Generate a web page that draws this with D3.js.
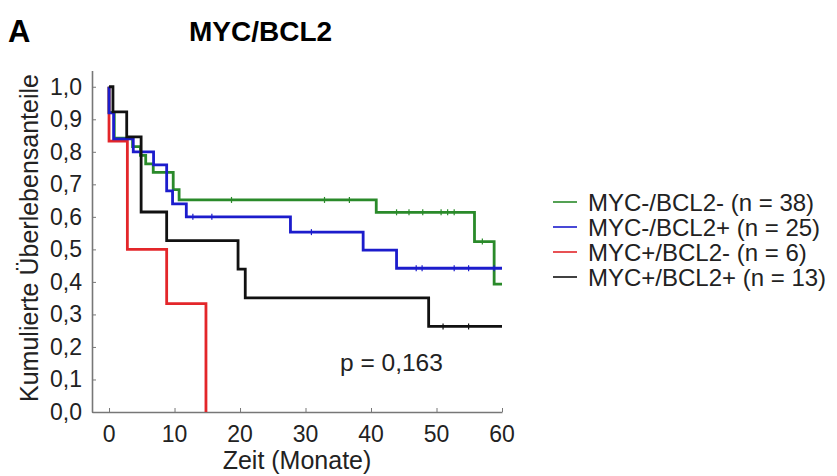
<!DOCTYPE html>
<html>
<head>
<meta charset="utf-8">
<script src="https://cdn.jsdelivr.net/npm/d3@7"></script>
<style>
  body { margin: 0; background: #fff; }
  text { font-family: "Liberation Sans", Arial, sans-serif; }
</style>
</head>
<body>
<svg id="km" width="837" height="476"></svg>
<script>
const groups = ['MYC-/BCL2- (n = 38)', 'MYC-/BCL2+ (n = 25)', 'MYC+/BCL2- (n = 6)', 'MYC+/BCL2+ (n = 13)']
const xTicks = [0, 10, 20, 30, 40, 50, 60]
const yTicks = [0, 0.1, 0.2, 0.3, 0.4, 0.5, 0.6, 0.7, 0.8, 0.9, 1.0]

// [time in months, survival after event]
const stepsMinusMinus = [[0, 1], [0, 0.921], [0.8, 0.842], [3.6, 0.816], [4.8, 0.789],
  [5.6, 0.763], [6.75, 0.737], [9.8, 0.684], [10.7, 0.652], [40.8, 0.614], [55.8, 0.524], [58.8, 0.393], [60, 0.393]]
const stepsMinusPlus = [[0, 1], [0, 0.92], [0.7, 0.84], [3.7, 0.80], [6.8, 0.76], [8.8, 0.68], [9.7, 0.64],
  [11.8, 0.60], [27.7, 0.553], [38.8, 0.498], [43.9, 0.442], [60, 0.442]]
const stepsPlusMinus = [[0, 1], [0, 0.833], [2.8, 0.5], [8.8, 0.333], [14.8, 0]]
const stepsPlusPlus = [[0, 1], [0.6, 0.923], [2.7, 0.846], [4.9, 0.615], [8.8, 0.527], [19.7, 0.439],
  [20.8, 0.351], [48.8, 0.263], [60, 0.263]]

// censored times
const censMinusMinus = [18.7, 32.9, 36.7, 43.9, 45.8, 47.9, 50.7, 51.7, 52.7, 57]
const censMinusPlus = [12.8, 15.7, 30.9, 46.9, 47.8, 52.7, 54.9, 58.8]
const censPlusMinus = []
const censPlusPlus = [51, 54.9]

const pText = 'p = 0,163'

const colors = ['#2a8a2a', '#1c1ccc', '#e3262a', '#111111']
const allSteps = [stepsMinusMinus, stepsMinusPlus, stepsPlusMinus, stepsPlusPlus]
const allCens = [censMinusMinus, censMinusPlus, censPlusMinus, censPlusPlus]
const drawOrder = [0, 2, 1, 3]

const svg = d3.select('svg#km')

const x = d3.scaleLinear().domain([-2.6, 60]).range([92, 502])
const y = d3.scaleLinear().domain([0, 1.05]).range([412, 70.5])

// survival at time t for a step list
const survAt = (steps, t) => {
  let s = steps[0][1]
  steps.forEach(p => { if (p[0] <= t) s = p[1] })
  return s
}

// axes
const axisColor = '#777'
const xAxis = svg.append('g').attr('transform', 'translate(0,412)')
  .call(d3.axisBottom(x).tickValues(xTicks).tickSizeInner(-4).tickSizeOuter(0).tickFormat(''))
const yAxis = svg.append('g').attr('transform', 'translate(92,0)')
  .call(d3.axisLeft(y).tickValues(yTicks).tickSizeInner(-4).tickSizeOuter(0).tickFormat(''))
;[xAxis, yAxis].forEach(a => {
  a.select('.domain').attr('stroke', axisColor).attr('stroke-width', 1.6)
  a.selectAll('.tick line').attr('stroke', axisColor).attr('stroke-width', 1)
})

svg.append('g').selectAll('text')
  .data(xTicks)
  .enter()
  .append('text')
  .attr('x', d => x(d))
  .attr('y', 442)
  .attr('text-anchor', 'middle')
  .attr('font-size', '23px')
  .attr('fill', '#222')
  .text(d => d)

svg.append('g').selectAll('text')
  .data(yTicks)
  .enter()
  .append('text')
  .attr('x', 82)
  .attr('y', d => y(d) + 8)
  .attr('text-anchor', 'end')
  .attr('font-size', '23px')
  .attr('fill', '#222')
  .text(d => d3.format('.1f')(d).replace('.', ','))

svg.append('text')
  .attr('x', 297)
  .attr('y', 469)
  .attr('text-anchor', 'middle')
  .attr('font-size', '25px')
  .attr('fill', '#222')
  .text('Zeit (Monate)')

svg.append('text')
  .attr('transform', 'translate(38,238) rotate(-90)')
  .attr('text-anchor', 'middle')
  .attr('font-size', '25px')
  .attr('fill', '#222')
  .text('Kumulierte Überlebensanteile')

// curves
const line = d3.line()
  .x(p => x(p[0]))
  .y(p => y(p[1]))
  .curve(d3.curveStepAfter)

svg.append('g').selectAll('path')
  .data(drawOrder)
  .enter()
  .append('path')
  .attr('d', i => line(allSteps[i]))
  .attr('fill', 'none')
  .attr('stroke', i => colors[i])
  .attr('stroke-width', 2.8)

// censor marks
allCens.forEach((c, i) => {
  svg.append('g').selectAll('line')
    .data(c)
    .enter()
    .append('line')
    .attr('x1', t => x(t))
    .attr('x2', t => x(t))
    .attr('y1', t => y(survAt(allSteps[i], t)) - 3)
    .attr('y2', t => y(survAt(allSteps[i], t)) + 3)
    .attr('stroke', colors[i])
    .attr('stroke-width', 1.2)
})

svg.append('text')
  .attr('x', 340)
  .attr('y', 371)
  .attr('font-size', '24.5px')
  .attr('fill', '#222')
  .text(pText)

// legend
const legend = svg.append('g').selectAll('g')
  .data(groups)
  .enter()
  .append('g')
  .attr('transform', (d, i) => `translate(553,${202 + i * 25})`)
legend.append('line')
  .attr('x1', 0).attr('x2', 24)
  .attr('stroke', (d, i) => colors[i])
  .attr('stroke-width', 1.6)
legend.append('text')
  .attr('x', 35)
  .attr('y', 8.5)
  .attr('font-size', '24px')
  .attr('fill', '#222')
  .text(d => d)

// titles
svg.append('text')
  .attr('x', 8)
  .attr('y', 42)
  .attr('font-size', '31px')
  .attr('font-weight', 'bold')
  .text('A')

svg.append('text')
  .attr('x', 189)
  .attr('y', 41)
  .attr('font-size', '28px')
  .attr('font-weight', 'bold')
  .text('MYC/BCL2')
</script>
</body>
</html>
